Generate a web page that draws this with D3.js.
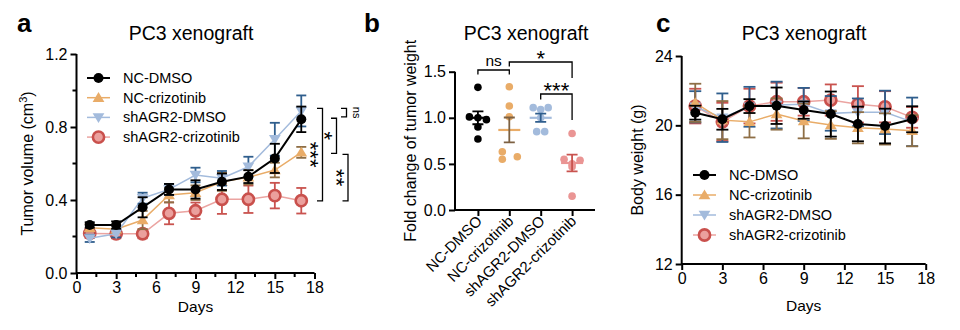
<!DOCTYPE html>
<html><head><meta charset="utf-8">
<script src="https://cdn.jsdelivr.net/npm/d3@7"></script>
<style>
body{margin:0;background:#fff;}
svg{display:block;font-family:"Liberation Sans",Arial,Helvetica,sans-serif;}
</style></head>
<body><svg id="c" width="960" height="330"></svg>
<script>
// ---------- DATA ----------
const days = [1,3,5,7,9,11,13,15,17];
const seriesNames = ["NC-DMSO","NC-crizotinib","shAGR2-DMSO","shAGR2-crizotinib"];
// Panel a: tumor volume (cm3)
const volNCDMSO   = [0.263,0.263,0.36,0.458,0.458,0.50,0.528,0.628,0.842];
const volNCDMSOe  = [0.015,0.02,0.055,0.03,0.05,0.045,0.035,0.08,0.07];
const volNCCriz   = [0.248,0.24,0.29,0.427,0.44,0.50,0.525,0.564,0.661];
const volNCCrize  = [0.02,0.02,0.05,0.04,0.04,0.05,0.04,0.04,0.03];
const volShDMSO   = [0.19,0.215,0.41,0.458,0.537,0.519,0.582,0.733,0.888];
const volShDMSOe  = [0.02,0.02,0.03,0.03,0.04,0.04,0.055,0.09,0.085];
const volShCriz   = [0.217,0.215,0.215,0.327,0.341,0.404,0.404,0.424,0.396];
const volShCrize  = [0.025,0.025,0.025,0.06,0.045,0.08,0.075,0.07,0.07];
// Panel b: fold change of tumor weight (individual points)
const wNCDMSO  = [1.33,1.01,1.0,0.98,0.90,0.77];
const wNCCriz  = [1.337,1.128,1.012,0.632,0.55,0.578];
const wShDMSO  = [1.11,1.09,1.11,1.0,0.85,0.85];
const wShCriz  = [0.83,0.55,0.54,0.50,0.47,0.15];
const wMean    = [1.0,0.868,1.0,0.51];
const wSem     = [0.07,0.135,0.045,0.09];
// Panel c: body weight (g)
const bwNCDMSO  = [20.73,20.35,21.11,21.13,20.88,20.65,20.08,19.96,20.35];
const bwNCDMSOe = [0.4,0.6,0.4,1.05,0.5,1.3,1.0,1.0,0.75];
const bwNCCriz  = [21.3,20.3,20.2,20.65,20.25,20.02,19.86,19.79,19.69];
const bwNCCrize = [1.1,1.1,0.9,0.9,1.0,0.8,0.9,0.9,0.9];
const bwShDMSO  = [21.07,20.44,21.07,21.17,21.21,20.69,20.75,20.75,20.2];
const bwShDMSOe = [0.9,1.4,1.15,1.35,0.95,1.0,0.8,1.25,1.4];
const bwShCriz  = [21.11,20.2,21.11,21.36,21.36,21.46,21.21,21.07,20.46];
const bwShCrize = [1.0,1.1,1.0,1.1,0.8,0.9,1.05,0.9,0.6];
// ticks
const xTicks = [0,3,6,9,12,15,18];
const xMinor = [1.5,4.5,7.5,10.5,13.5,16.5];
const aYTicks = [0,0.4,0.8,1.2];
const aYMinor = [0.2,0.6,1.0];
const bYTicks = [0,0.5,1.0,1.5];
const cYTicks = [12,16,20,24];

// ---------- STYLES ----------
const style = [
  {line:"#000", err:"#000", lw:2, marker:"circle", fill:"#000", stroke:"#000"},
  {line:"#e9ac68", err:"#8e6e45", lw:1.5, marker:"up", fill:"#e9ac68", stroke:"#e9ac68"},
  {line:"#a3bbdc", err:"#2f5e8d", lw:1.5, marker:"down", fill:"#a3bbdc", stroke:"#a3bbdc"},
  {line:"#eba4a1", err:"#c9534f", lw:1.5, marker:"ring", fill:"#eba09d", stroke:"#c9504c"}
];
const ptColor = ["#000","#e9ac68","#a3bbdc","#ea9594"];
const meanColor = ["#000","#e9ac68","#a3bbdc","#ea9594"];
const semColor = ["#000","#7d6142","#2f5e8d","#c9534f"];
const FONT = 15.5;
const STAR = 22;

const svg = d3.select("#c");

function drawMarker(g, type, x, y, st, scale){
  scale = scale||1;
  if(type==="circle"){
    g.append("circle").attr("cx",x).attr("cy",y).attr("r",5*scale).attr("fill",st.fill);
  } else if(type==="ring"){
    g.append("circle").attr("cx",x).attr("cy",y).attr("r",5.6*scale).attr("fill",st.fill)
      .attr("stroke",st.stroke).attr("stroke-width",2.6);
  } else {
    const s = 5.6*scale;
    const pts = type==="up" ? [[x,y-s],[x-s*1.05,y+s*0.75],[x+s*1.05,y+s*0.75]]
                            : [[x,y+s],[x-s*1.05,y-s*0.75],[x+s*1.05,y-s*0.75]];
    g.append("path").attr("d","M"+pts.map(p=>p.join(",")).join("L")+"Z").attr("fill",st.fill);
  }
}

function timeCourse(opts){
  const g = svg.append("g");
  const x = d3.scaleLinear().domain([0,18]).range(opts.xr);
  const y = d3.scaleLinear().domain(opts.yd).range(opts.yr);
  const xa = d3.axisBottom(x).tickValues(xTicks).tickSize(6).tickPadding(3).tickFormat(d3.format("d"));
  const ya = d3.axisLeft(y).tickValues(opts.yTicks).tickSize(6).tickPadding(3).tickFormat(opts.yFmt);
  const gx = g.append("g").attr("transform",`translate(0,${opts.yr[0]})`).call(xa);
  const gy = g.append("g").attr("transform",`translate(${opts.xr[0]},0)`).call(ya);
  [gx,gy].forEach(a=>{
    a.select(".domain").attr("stroke","#000").attr("stroke-width",2);
    a.selectAll(".tick line").attr("stroke","#000").attr("stroke-width",2);
    a.selectAll("text").attr("font-size",16).attr("fill","#000").attr("font-family","inherit");
  });
  gx.select(".domain").attr("d",`M${opts.xr[0]},0H${opts.xr[1]}`);
  gy.select(".domain").attr("d",`M0,${opts.yr[0]}V${opts.yr[1]}`);
  if(opts.minor){
    g.append("g").selectAll("line").data(xMinor).join("line")
      .attr("x1",d=>x(d)).attr("x2",d=>x(d)).attr("y1",opts.yr[0]).attr("y2",opts.yr[0]+4)
      .attr("stroke","#000").attr("stroke-width",2);
    g.append("g").selectAll("line").data(opts.yMinor).join("line")
      .attr("y1",d=>y(d)).attr("y2",d=>y(d)).attr("x1",opts.xr[0]).attr("x2",opts.xr[0]-4)
      .attr("stroke","#000").attr("stroke-width",2);
  }
  const xm = (opts.xr[0]+opts.xr[1])/2;
  g.append("text").attr("x",xm).attr("y",opts.daysY).attr("text-anchor","middle")
    .attr("font-size",FONT).text("Days");
  const ym = (opts.yr[0]+opts.yr[1])/2;
  const yl = g.append("text").attr("transform",`translate(${opts.ylabX},${ym}) rotate(-90)`)
    .attr("text-anchor","middle").attr("font-size",16);
  opts.ylab(yl);
  g.append("text").attr("x",opts.titleX).attr("y",40).attr("text-anchor","middle")
    .attr("font-size",19.5).text("PC3 xenograft");
  const line = d3.line().x((d,i)=>x(days[i])).y(d=>y(d));
  opts.order.forEach(si=>{
    const st = style[si], vals = opts.vals[si], errs = opts.errs[si];
    const sg = g.append("g");
    sg.append("path").attr("d",line(vals)).attr("fill","none").attr("stroke",st.line).attr("stroke-width",st.lw);
    vals.forEach((v,i)=>{
      const cx = x(days[i]);
      sg.append("line").attr("x1",cx).attr("x2",cx).attr("y1",y(v+errs[i])).attr("y2",y(v-errs[i]))
        .attr("stroke",st.err).attr("stroke-width",1.8);
      [v+errs[i],v-errs[i]].forEach(e=>{
        sg.append("line").attr("x1",cx-opts.cap).attr("x2",cx+opts.cap).attr("y1",y(e)).attr("y2",y(e))
          .attr("stroke",st.err).attr("stroke-width",1.8);
      });
    });
    vals.forEach((v,i)=>drawMarker(sg, st.marker, x(days[i]), y(v), st));
  });
  const lg = g.append("g");
  seriesNames.forEach((n,i)=>{
    const ly = opts.legY + i*opts.legDy;
    const st = style[i];
    lg.append("line").attr("x1",opts.legX).attr("x2",opts.legX+23).attr("y1",ly).attr("y2",ly)
      .attr("stroke",st.line).attr("stroke-width",st.lw);
    drawMarker(lg, st.marker, opts.legX+11.5, ly, st);
    lg.append("text").attr("x",opts.legX+36).attr("y",ly+5).attr("font-size",14.5).text(n);
  });
  return {g,x,y};
}

// ---------- PANEL A ----------
const A = timeCourse({
  xr:[76.5,314.5], yr:[273,54], yd:[0,1.2], yTicks:aYTicks, yMinor:aYMinor, minor:true,
  yFmt:d3.format(".1f"), ylabX:33, titleX:191, cap:5, daysY:312,
  ylab: t=>{ t.text("Tumor volume (cm"); t.append("tspan").attr("dy",-6).attr("font-size",11).text("3"); t.append("tspan").attr("dy",6).text(")"); },
  vals:[volNCDMSO,volNCCriz,volShDMSO,volShCriz], errs:[volNCDMSOe,volNCCrize,volShDMSOe,volShCrize],
  order:[3,1,2,0], legX:87, legY:78, legDy:19.7
});
const sigA = [
  {y0:0.902,y1:0.856,x:346.5,lab:"ns",tx:353,fs:11},
  {y0:0.848,y1:0.656,x:336.5,lab:"*",tx:330,fs:STAR},
  {y0:0.902,y1:0.395,x:322.5,lab:"***",tx:316,fs:STAR},
  {y0:0.650,y1:0.395,x:348,lab:"**",tx:342,fs:STAR}
];
sigA.forEach(s=>{
  const y0=A.y(s.y0), y1=A.y(s.y1);
  A.g.append("path").attr("d",`M${s.x-5.5},${y0}H${s.x}V${y1}H${s.x-5.5}`)
    .attr("fill","none").attr("stroke","#000").attr("stroke-width",1.3);
  const ym=(y0+y1)/2;
  A.g.append("text").attr("transform",`translate(${s.tx},${ym}) rotate(90)`)
    .attr("text-anchor","middle").attr("dy", s.lab==="ns"?0:"0.58em").attr("font-size",s.fs).text(s.lab);
});

// ---------- PANEL B ----------
(function(){
  const g = svg.append("g");
  const x = d3.scalePoint().domain(seriesNames).range([455,595]).padding(0.73);
  const y = d3.scaleLinear().domain([0,1.5]).range([210,71.7]);
  const gx = g.append("g").attr("transform","translate(0,210)").call(d3.axisBottom(x).tickSize(6).tickFormat(""));
  const gy = g.append("g").attr("transform","translate(455,0)")
    .call(d3.axisLeft(y).tickValues(bYTicks).tickSize(6).tickPadding(3).tickFormat(d3.format(".1f")));
  [gx,gy].forEach(a=>{
    a.select(".domain").attr("stroke","#000").attr("stroke-width",2);
    a.selectAll(".tick line").attr("stroke","#000").attr("stroke-width",2);
    a.selectAll("text").attr("font-size",16).attr("fill","#000").attr("font-family","inherit");
  });
  gx.select(".domain").attr("d","M455,0H595");
  gy.select(".domain").attr("d","M0,210V71.7");
  seriesNames.forEach(n=>{
    g.append("text").attr("transform",`translate(${x(n)+5},${222}) rotate(-45)`)
      .attr("text-anchor","end").attr("font-size",15).text(n);
  });
  g.append("text").attr("transform","translate(416,140.8) rotate(-90)").attr("text-anchor","middle")
    .attr("font-size",16).text("Fold change of tumor weight");
  g.append("text").attr("x",526).attr("y",40).attr("text-anchor","middle").attr("font-size",19.5).text("PC3 xenograft");
  const offs = [[0,-8.5,0,8.5,0,0],[0,0,0,-7,-7,8],[-7.5,0,7.5,0,-4,4],[0,-8,8,0,0,0]];
  const pts = [wNCDMSO,wNCCriz,wShDMSO,wShCriz];
  pts.forEach((arr,i)=>{
    const cx = x(seriesNames[i]);
    arr.forEach((v,j)=>{
      g.append("circle").attr("cx",cx+offs[i][j]).attr("cy",y(v)).attr("r",3.8).attr("fill",ptColor[i]);
    });
    g.append("line").attr("x1",cx-11).attr("x2",cx+11).attr("y1",y(wMean[i])).attr("y2",y(wMean[i]))
      .attr("stroke",meanColor[i]).attr("stroke-width",2.2);
    const t=y(wMean[i]+wSem[i]), b=y(wMean[i]-wSem[i]);
    g.append("path").attr("d",`M${cx},${t}V${b}M${cx-5.5},${t}H${cx+5.5}M${cx-5.5},${b}H${cx+5.5}`)
      .attr("stroke",semColor[i]).attr("stroke-width",1.8).attr("fill","none");
  });
  const x1=x(seriesNames[0]), x2=x(seriesNames[1]), x3=x(seriesNames[2]), x4=x(seriesNames[3]);
  const br = (d,lab,tx,ty,fs)=>{
    g.append("path").attr("d",d).attr("fill","none").attr("stroke","#000").attr("stroke-width",1.3);
    g.append("text").attr("x",tx).attr("y",ty).attr("text-anchor","middle").attr("font-size",fs).text(lab);
  };
  br(`M${x1},74.5V70H${x2}V74.5`,"ns",(x1+x2)/2,66,15.5);
  br(`M${x2},66.5V62H${x4}V78`,"*",(x2+x4)/2,66,STAR);
  br(`M${x3},99.5V94H${x4}V120`,"***",(x3+x4)/2,98,STAR);
})();

// ---------- PANEL C ----------
timeCourse({
  xr:[681.7,925.7], yr:[264,56], yd:[12,24], yTicks:cYTicks, minor:false,
  yFmt:d3.format("d"), ylabX:643, titleX:804, cap:6, daysY:311,
  ylab: t=>t.text("Body weight (g)"),
  vals:[bwNCDMSO,bwNCCriz,bwShDMSO,bwShCriz], errs:[bwNCDMSOe,bwNCCrize,bwShDMSOe,bwShCrize],
  order:[3,2,1,0], legX:693, legY:175, legDy:20
});

[["a",17],["b",364],["c",656]].forEach(([t,x])=>{
  svg.append("text").attr("x",x).attr("y",32).attr("font-size",26).attr("font-weight","bold").text(t);
});
</script></body></html>
